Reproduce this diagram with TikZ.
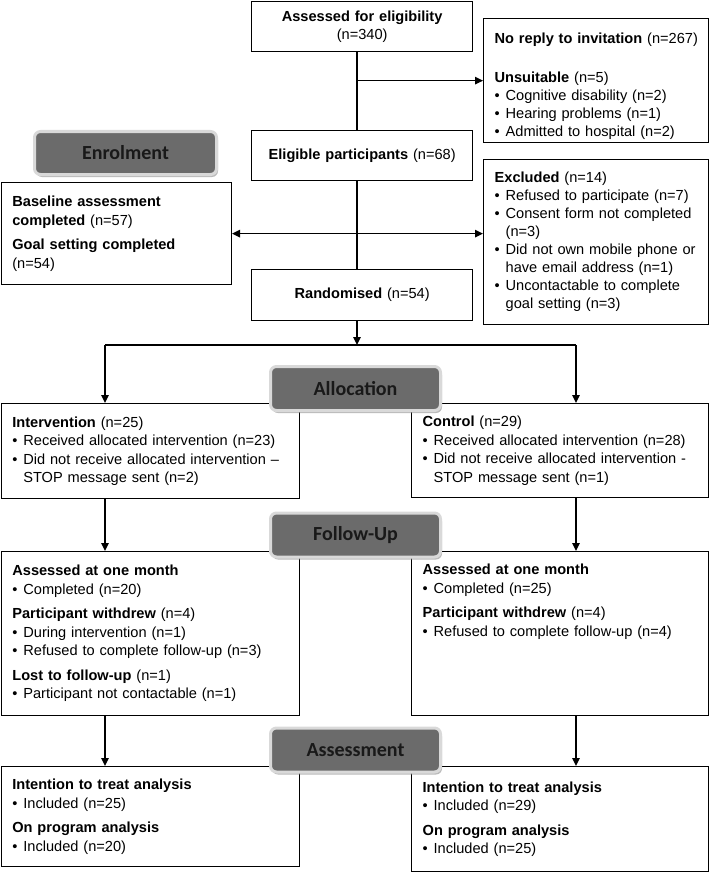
\documentclass[tikz,border=0pt]{standalone}
\usepackage{fontspec}
\setmainfont{Liberation Sans}
\newfontfamily\bannerfont{Carlito}
\usetikzlibrary{arrows.meta,shadows}
\newcommand{\bl}{\makebox[11pt][l]{\textbullet}}
\newcommand{\cont}{\hspace*{11pt}}
\begin{document}
\begin{tikzpicture}[x=1pt, y=-1pt, >={Triangle[length=8pt, width=7.5pt]},
  every node/.style={font=\fontsize{14.6pt}{18.5pt}\selectfont},
  block/.style={draw, line width=1.3pt, anchor=north west, inner xsep=11pt, inner ysep=3pt, align=left},
  midblock/.style={block, align=center, minimum width=221pt, text width=199pt},
  sideblock/.style={block, minimum width=225pt, text width=203pt, font=\fontsize{14.6pt}{18pt}\selectfont},
  armL/.style={block, minimum width=298pt, text width=276pt},
  armR/.style={block, minimum width=297pt, text width=275pt},
  banner/.style={draw=black!15, line width=3pt, fill=black!58, rounded corners=6pt, minimum width=170pt, minimum height=44pt, text=black!90, font=\bannerfont\bfseries\fontsize{20pt}{24pt}\selectfont, drop shadow={shadow xshift=1.5pt, shadow yshift=-2.5pt, fill=black!45, opacity=0.6}},
  line/.style={line width=1.3pt}]

  \useasboundingbox (0,0) rectangle (709,872);

  % Centre column
  \node[midblock, minimum height=50pt] (assess) at (251,1) {\textbf{Assessed for eligibility}\\(n=340)};
  \node[midblock, minimum height=50pt] (elig) at (251,130) {\textbf{Eligible participants} (n=68)};
  \node[midblock, minimum height=51pt] (rand) at (251,269) {\textbf{Randomised} (n=54)};

  % Side boxes
  \node[sideblock, minimum height=121pt] (noreply) at (483,18) {\rule{0pt}{22pt}\mbox{\textbf{No reply to invitation} (n=267)}\\[21pt]
    \textbf{Unsuitable} (n=5)\\
    \bl Cognitive disability (n=2)\\
    \bl Hearing problems (n=1)\\
    \bl Admitted to hospital (n=2)};
  \node[sideblock, minimum height=165pt] (excl) at (483,159) {\textbf{Excluded} (n=14)\\
    \bl Refused to participate (n=7)\\
    \bl Consent form not completed\\
    \cont(n=3)\\
    \bl Did not own mobile phone or\\
    \cont have email address (n=1)\\
    \bl Uncontactable to complete\\
    \cont goal setting (n=3)};
  \node[block, minimum width=230pt, text width=208pt, minimum height=102pt] (base) at (0.7,182) {\textbf{Baseline assessment}\\
    \textbf{completed} (n=57)\\[6pt]
    \textbf{Goal setting completed}\\
    (n=54)};

  % Allocation
  \node[armL, minimum height=95pt] (interv) at (0.7,403) {\textbf{Intervention} (n=25)\\
    \bl Received allocated intervention (n=23)\\
    \bl Did not receive allocated intervention --\\
    \cont STOP message sent (n=2)};
  \node[armR, minimum height=94pt] (ctrl) at (411,403) {\textbf{Control} (n=29)\\
    \bl Received allocated intervention (n=28)\\
    \bl Did not receive allocated intervention -\\
    \cont STOP message sent (n=1)};

  % Follow-up
  \node[armL, minimum height=164pt] (fuL) at (0.7,551) {\textbf{Assessed at one month}\\
    \bl Completed (n=20)\\[6pt]
    \textbf{Participant withdrew} (n=4)\\
    \bl During intervention (n=1)\\
    \bl Refused to complete follow-up (n=3)\\[6pt]
    \textbf{Lost to follow-up} (n=1)\\
    \bl Participant not contactable (n=1)};
  \node[armR, minimum height=164pt] (fuR) at (411,551) {\textbf{Assessed at one month}\\
    \bl Completed (n=25)\\[6pt]
    \textbf{Participant withdrew} (n=4)\\
    \bl Refused to complete follow-up (n=4)\\[6pt]
    \mbox{}\\ \mbox{}\\ \strut};

  % Analysis
  \node[armL, minimum height=100pt] (finL) at (0.7,766) {\textbf{Intention to treat analysis}\\
    \bl Included (n=25)\\[6pt]
    \textbf{On program analysis}\\
    \bl Included (n=20)};
  \node[armR, minimum height=105pt] (finR) at (411,766) {\textbf{Intention to treat analysis}\\
    \bl Included (n=29)\\[6pt]
    \textbf{On program analysis}\\
    \bl Included (n=25)};

  % Junctions
  \coordinate (sp) at (357,0);
  \coordinate (split) at (357,345);
  \coordinate (brL) at (105,345);
  \coordinate (brR) at (576,345);

  % Arrows
  \draw[line] (assess.south -| sp) -- (elig.north -| sp);
  \draw[line, ->] (noreply.west -| sp) -- (noreply.west);
  \draw[line] (elig.south -| sp) -- (rand.north -| sp);
  \draw[line, <->] (base.east) -- (base.east -| excl.west);
  \draw[line, ->] (rand.south -| sp) -- (split);
  \draw[line] (brL) -- (brR);
  \draw[line, ->] (brL) -- (brL |- interv.north);
  \draw[line, ->] (brR) -- (brR |- ctrl.north);
  \draw[line, ->] (interv.south -| brL) -- (fuL.north -| brL);
  \draw[line, ->] (ctrl.south -| brR) -- (fuR.north -| brR);
  \draw[line, ->] (fuL.south -| brL) -- (finL.north -| brL);
  \draw[line, ->] (fuR.south -| brR) -- (finR.north -| brR);

  % Stage banners
  \node[banner, minimum width=182pt, minimum height=43pt] (enrol) at (125.5,153) {Enrolment};
  \node[banner] (alloc) at (355.5,388.5) {Allocation};
  \node[banner] (follow) at (355.5,535) {Follow-Up};
  \node[banner] (assessm) at (355.5,750) {Assessment};

\end{tikzpicture}
\end{document}
